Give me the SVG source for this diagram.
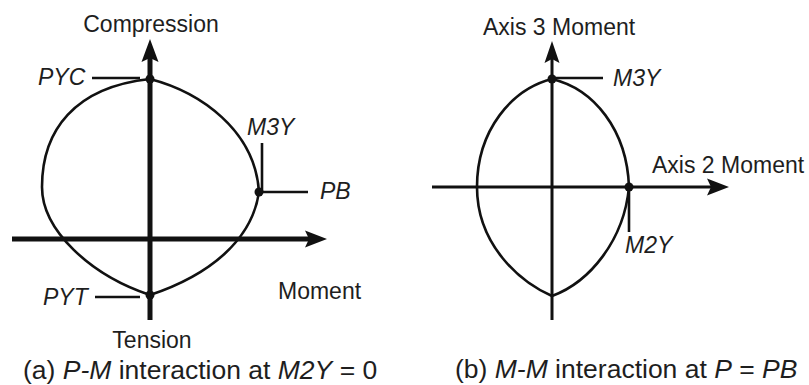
<svg xmlns="http://www.w3.org/2000/svg" width="809" height="385" viewBox="0 0 809 385">
<style>
text{font-family:"Liberation Sans",Arial,sans-serif;font-size:23px;fill:#1e1e1e}
.i{font-style:italic}
.cap{font-size:26.5px}
.ax{stroke:#111;stroke-width:5;fill:none}
.ax2{stroke:#111;stroke-width:3;fill:none}
.cv{stroke:#111;stroke-width:2.6;fill:none}
.ld{stroke:#111;stroke-width:2.6;fill:none}
.ah{fill:#111}
.dot{fill:#111}
</style>
<rect width="809" height="385" fill="#fff"/>
<g id="connectors">
<line class="ax" x1="150" y1="56" x2="150" y2="320"/>
<polygon class="ah" points="150,39 158.5,62 150,58 141.5,62"/>
<line class="ax" x1="12" y1="239" x2="312" y2="239"/>
<polygon class="ah" points="327,239 305,247.5 309,239 305,230.5"/>
<path class="cv" d="M150,79 C75,87 42,130 42,187 C42,230 90,275 150,295"/>
<path class="cv" d="M150,79 C200,92 255,130 259,192 C252,240 210,275 150,295"/>
<line class="ld" x1="92" y1="78" x2="140" y2="78"/>
<line class="ld" x1="95" y1="297" x2="140" y2="297"/>
<line class="ld" x1="262" y1="143" x2="262" y2="192"/>
<line class="ld" x1="259" y1="192" x2="308" y2="192"/>
<line class="ax2" x1="552" y1="56" x2="552" y2="320"/>
<polygon class="ah" points="552,41 559.5,63 552,59 544.5,63"/>
<line class="ax2" x1="432" y1="187" x2="714" y2="187"/>
<polygon class="ah" points="729,187 707,195.5 711,187 707,178.5"/>
<path class="cv" d="M552,79 C512,89 477,130 477,187 C477,245 520,282 552,296"/>
<path class="cv" d="M552,79 C594,89 627,130 629,187 C624,240 590,282 552,296"/>
<line class="ld" x1="552" y1="78" x2="603" y2="78"/>
<line class="ld" x1="629" y1="187" x2="629" y2="232"/>
</g>
<g id="node-pyc"><circle class="dot" cx="150" cy="79" r="4.5"/><text class="i" x="38" y="85">PYC</text></g>
<g id="node-pyt"><circle class="dot" cx="150" cy="295" r="4.5"/><text class="i" x="43" y="305">PYT</text></g>
<g id="node-pb"><circle class="dot" cx="259" cy="192" r="4.5"/><text class="i" x="320" y="199">PB</text></g>
<g id="node-m3y-left"><text class="i" x="247" y="135">M3Y</text></g>
<g id="labels-left">
<text x="151" y="32" text-anchor="middle">Compression</text>
<text x="152" y="348" text-anchor="middle">Tension</text>
<text x="278" y="299">Moment</text>
<text class="cap" x="23" y="379">(a) <tspan class="i">P-M</tspan> interaction at <tspan class="i">M2Y</tspan> = 0</text>
</g>
<g id="node-m3y-right"><circle class="dot" cx="552" cy="79" r="4.5"/><text class="i" x="613" y="86">M3Y</text></g>
<g id="node-m2y"><circle class="dot" cx="629" cy="187" r="4.5"/><text class="i" x="625" y="253">M2Y</text></g>
<g id="labels-right">
<text x="483" y="35">Axis 3 Moment</text>
<text x="652" y="173">Axis 2 Moment</text>
<text class="cap" x="455" y="378">(b) <tspan class="i">M-M</tspan> interaction at <tspan class="i">P</tspan> = <tspan class="i">PB</tspan></text>
</g>
</svg>
